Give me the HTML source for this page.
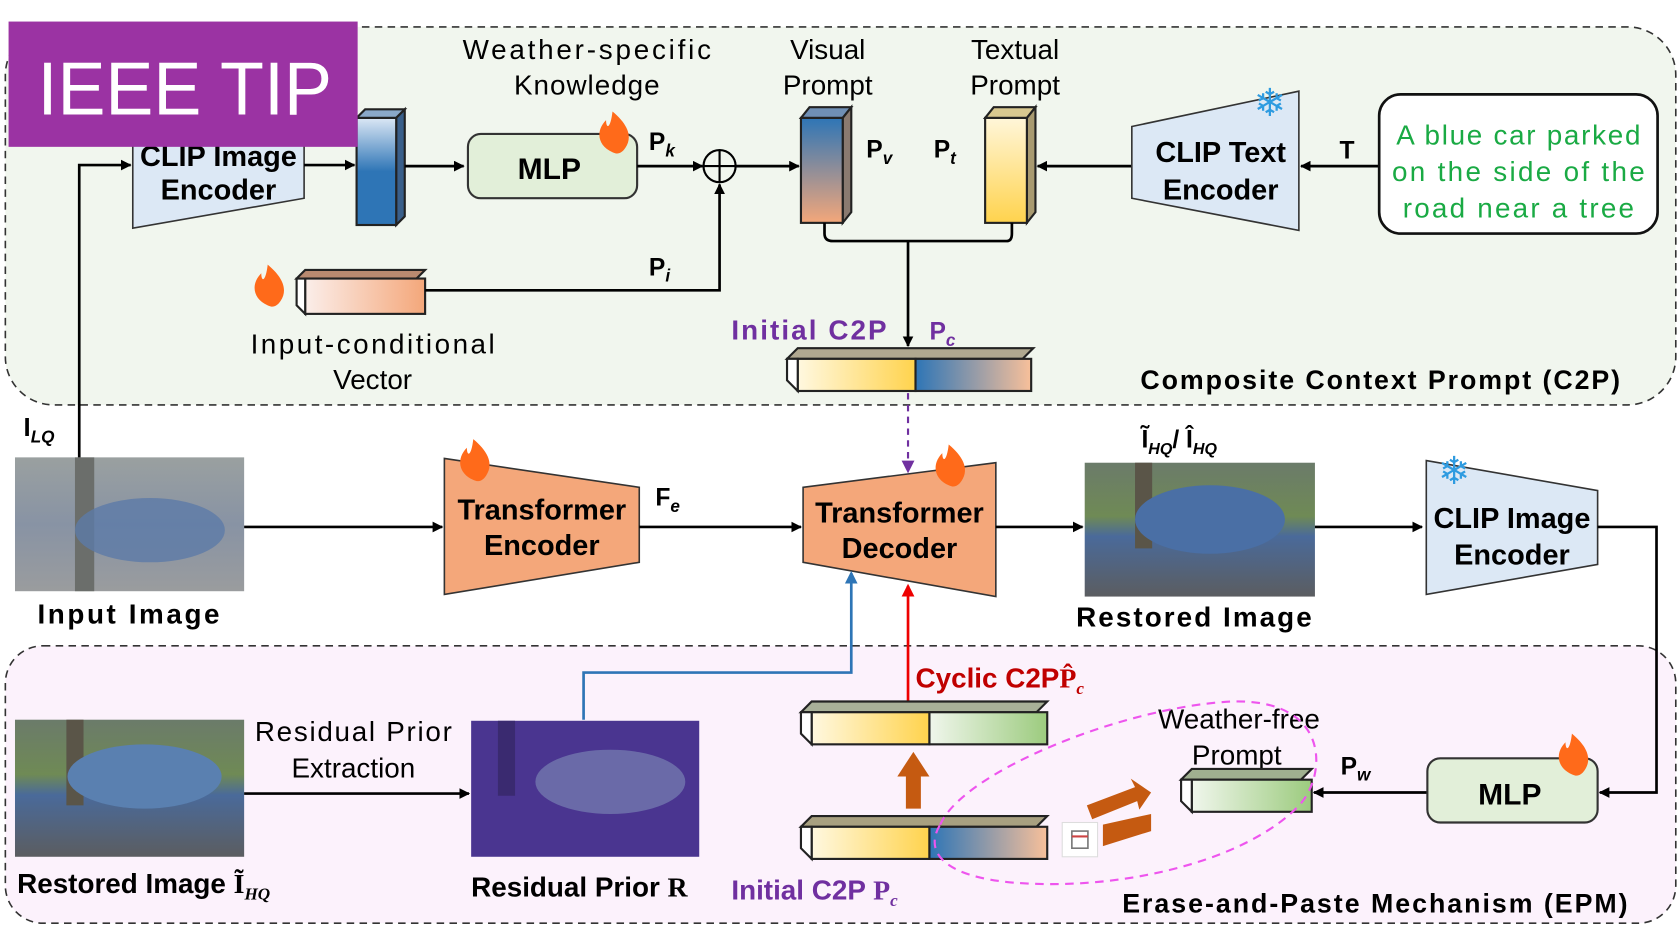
<!DOCTYPE html>
<html><head><meta charset="utf-8"><style>
html,body{margin:0;padding:0;background:#fff}
svg{display:block}
text{font-family:"Liberation Sans",sans-serif}
.b{font-weight:bold}
</style></head><body>
<svg width="1679" height="949" viewBox="0 0 1568 886" xmlns="http://www.w3.org/2000/svg">
<defs>
<marker id="ar" markerWidth="10" markerHeight="10" refX="9" refY="5" orient="auto" markerUnits="userSpaceOnUse"><path d="M0,0 L10,5 L0,10 z" fill="#000"/></marker>
<marker id="arB" markerWidth="12" markerHeight="12" refX="10" refY="6" orient="auto" markerUnits="userSpaceOnUse"><path d="M0,0 L12,6 L0,12 z" fill="#2e75b6"/></marker>
<marker id="arR" markerWidth="12" markerHeight="12" refX="10" refY="6" orient="auto" markerUnits="userSpaceOnUse"><path d="M0,0 L12,6 L0,12 z" fill="#e00"/></marker>
<marker id="arP" markerWidth="12" markerHeight="12" refX="10" refY="6" orient="auto" markerUnits="userSpaceOnUse"><path d="M0,0 L12,6 L0,12 z" fill="#7030a0"/></marker>
<linearGradient id="gBlue" x1="0" y1="0" x2="0" y2="1"><stop offset="0" stop-color="#dbe7f5"/><stop offset="0.5" stop-color="#2e75b6"/><stop offset="1" stop-color="#2e75b6"/></linearGradient>
<linearGradient id="gVis" x1="0" y1="0" x2="0" y2="1"><stop offset="0" stop-color="#2e75b6"/><stop offset="1" stop-color="#f4a77a"/></linearGradient>
<linearGradient id="gTxt" x1="0" y1="0" x2="0" y2="1"><stop offset="0" stop-color="#fff6d9"/><stop offset="1" stop-color="#ffd34d"/></linearGradient>
<linearGradient id="gOr" x1="0" y1="0" x2="1" y2="0"><stop offset="0" stop-color="#fbeeea"/><stop offset="1" stop-color="#f4a77a"/></linearGradient>
<linearGradient id="gYel" x1="0" y1="0" x2="1" y2="0"><stop offset="0" stop-color="#fff8e0"/><stop offset="1" stop-color="#ffd34d"/></linearGradient>
<linearGradient id="gBO" x1="0" y1="0" x2="1" y2="0"><stop offset="0" stop-color="#2e75b6"/><stop offset="1" stop-color="#f8c09a"/></linearGradient>
<linearGradient id="gGr" x1="0" y1="0" x2="1" y2="0"><stop offset="0" stop-color="#f0f6ec"/><stop offset="1" stop-color="#9ccb7e"/></linearGradient>
<linearGradient id="gImg" x1="0" y1="0" x2="0" y2="1"><stop offset="0" stop-color="#6b7b6a"/><stop offset="0.4" stop-color="#6f8a55"/><stop offset="0.55" stop-color="#4a6a9a"/><stop offset="1" stop-color="#5b5d60"/></linearGradient>
<linearGradient id="gImgLQ" x1="0" y1="0" x2="0" y2="1"><stop offset="0" stop-color="#9aa0a0"/><stop offset="0.5" stop-color="#8893a4"/><stop offset="1" stop-color="#9a9c9e"/></linearGradient>
</defs>

<rect x="5" y="25" width="1560" height="353" rx="45" fill="#f1f6ee" stroke="#333" stroke-width="1.5" stroke-dasharray="7,5"/>
<rect x="5" y="603" width="1560" height="259" rx="35" fill="#fcf2fc" stroke="#333" stroke-width="1.5" stroke-dasharray="7,5"/>

<polyline points="74,428 74,154 122,154" fill="none" stroke="#000" stroke-width="2.5" marker-end="url(#ar)"/>
<polygon points="124,115 284,115 284,185 124,213" fill="#dce8f5" stroke="#333" stroke-width="1.5"/>
<text x="204" y="155" font-size="27" class="b" text-anchor="middle">CLIP Image</text>
<text x="204" y="186" font-size="27" class="b" text-anchor="middle">Encoder</text>
<line x1="284" y1="154" x2="331" y2="154" stroke="#000" stroke-width="2.5" marker-end="url(#ar)"/>
<polygon points="333,110 341,102 378,102 370,110" fill="#8aa8c8" stroke="#222" stroke-width="2"/>
<polygon points="370,110 378,102 378,202 370,210" fill="#3a5f8a" stroke="#222" stroke-width="2"/>
<rect x="333" y="110" width="37" height="100" fill="url(#gBlue)" stroke="#222" stroke-width="2"/>
<line x1="378" y1="155" x2="433" y2="155" stroke="#000" stroke-width="2.5" marker-end="url(#ar)"/>
<rect x="437" y="125" width="158" height="60" rx="12" fill="#e2efd9" stroke="#333" stroke-width="2"/>
<text x="513" y="167" font-size="28" class="b" text-anchor="middle">MLP</text>
<text x="548" y="55" font-size="26" text-anchor="middle" textLength="232">Weather-specific</text>
<text x="548" y="88" font-size="26" text-anchor="middle" textLength="136">Knowledge</text>
<text x="606" y="140" font-size="23" class="b" font-family="Liberation Serif">P<tspan font-size="16" font-style="italic" dy="6">k</tspan></text>
<line x1="595" y1="155" x2="656" y2="155" stroke="#000" stroke-width="2.5" marker-end="url(#ar)"/>
<circle cx="672" cy="155" r="15" fill="none" stroke="#000" stroke-width="2"/>
<line x1="657" y1="155" x2="687" y2="155" stroke="#000" stroke-width="2"/>
<line x1="672" y1="140" x2="672" y2="170" stroke="#000" stroke-width="2"/>
<line x1="687" y1="155" x2="746" y2="155" stroke="#000" stroke-width="2.5" marker-end="url(#ar)"/>
<polygon points="277,260 285,252 397,252 389,260" fill="#b98a70" stroke="#222" stroke-width="2"/>
<rect x="285" y="260" width="112" height="33" fill="url(#gOr)" stroke="#222" stroke-width="2"/>
<polygon points="277,260 285,260 285,293 277,285" fill="#fff" stroke="#222" stroke-width="2"/>
<polyline points="397,271 672,271 672,172" fill="none" stroke="#000" stroke-width="2.5" marker-end="url(#ar)"/>
<text x="606" y="257" font-size="23" class="b" font-family="Liberation Serif">P<tspan font-size="16" font-style="italic" dy="6">i</tspan></text>
<text x="348" y="330" font-size="26" text-anchor="middle" textLength="228">Input-conditional</text>
<text x="348" y="363" font-size="26" text-anchor="middle">Vector</text>
<text x="773" y="55" font-size="26" text-anchor="middle">Visual</text>
<text x="773" y="88" font-size="26" text-anchor="middle">Prompt</text>
<polygon points="748,110 756,100 795,100 787,110" fill="#6f8fb5" stroke="#222" stroke-width="2"/>
<polygon points="787,110 795,100 795,198 787,208" fill="#8a7a70" stroke="#222" stroke-width="2"/>
<rect x="748" y="110" width="39" height="98" fill="url(#gVis)" stroke="#222" stroke-width="2"/>
<text x="809" y="147" font-size="23" class="b" font-family="Liberation Serif">P<tspan font-size="16" font-style="italic" dy="6">v</tspan></text>
<text x="872" y="147" font-size="23" class="b" font-family="Liberation Serif">P<tspan font-size="16" font-style="italic" dy="6">t</tspan></text>
<text x="948" y="55" font-size="26" text-anchor="middle">Textual</text>
<text x="948" y="88" font-size="26" text-anchor="middle">Prompt</text>
<polygon points="920,110 928,100 967,100 959,110" fill="#d8c890" stroke="#222" stroke-width="2"/>
<polygon points="959,110 967,100 967,198 959,208" fill="#a89a70" stroke="#222" stroke-width="2"/>
<rect x="920" y="110" width="39" height="98" fill="url(#gTxt)" stroke="#222" stroke-width="2"/>
<line x1="1057" y1="155" x2="969" y2="155" stroke="#000" stroke-width="2.5" marker-end="url(#ar)"/>
<polygon points="1057,118 1213,85 1213,215 1057,185" fill="#dce8f5" stroke="#333" stroke-width="1.5"/>
<text x="1140" y="151" font-size="27" class="b" text-anchor="middle">CLIP Text</text>
<text x="1140" y="186" font-size="27" class="b" text-anchor="middle">Encoder</text>
<text x="1186" y="108" font-size="36" fill="#2e9be0" text-anchor="middle">❄</text>
<text x="1258" y="148" font-size="23" class="b" font-family="Liberation Serif" text-anchor="middle">T</text>
<line x1="1288" y1="155" x2="1215" y2="155" stroke="#000" stroke-width="2.5" marker-end="url(#ar)"/>
<rect x="1288" y="88" width="260" height="130" rx="20" fill="#fff" stroke="#111" stroke-width="2.5"/>
<text x="1418" y="135" font-size="26" fill="#1aaa44" text-anchor="middle" textLength="228">A blue car parked</text>
<text x="1418" y="169" font-size="26" fill="#1aaa44" text-anchor="middle" textLength="236">on the side of the</text>
<text x="1418" y="203" font-size="26" fill="#1aaa44" text-anchor="middle" textLength="216">road near a tree</text>
<path d="M770,208 V218 Q770,225 778,225 H940 Q945,225 945,218 V208" fill="none" stroke="#000" stroke-width="2.5"/>
<line x1="848" y1="225" x2="848" y2="323" stroke="#000" stroke-width="2.5" marker-end="url(#ar)"/>
<text x="683" y="317" font-size="26" class="b" fill="#7030a0" textLength="145">Initial C2P</text>
<text x="868" y="317" font-size="23" class="b" fill="#7030a0" font-family="Liberation Serif">P<tspan font-size="16" font-style="italic" dy="6">c</tspan></text>
<polygon points="735,335 745,325 965,325 955,335" fill="#b0a890" stroke="#222" stroke-width="2"/>
<rect x="745" y="335" width="110" height="30" fill="url(#gYel)" stroke="#222" stroke-width="2"/>
<rect x="855" y="335" width="108" height="30" fill="url(#gBO)" stroke="#222" stroke-width="2"/>
<polygon points="735,335 745,335 745,365 735,355" fill="#fff" stroke="#222" stroke-width="2"/>
<text x="1065" y="363" font-size="25" class="b" textLength="448">Composite Context Prompt (C2P)</text>

<text x="22" y="407" font-size="24" class="b" font-family="Liberation Serif">I<tspan font-size="16" font-style="italic" dy="6">LQ</tspan></text>
<rect x="14" y="427" width="214" height="125" fill="url(#gImgLQ)"/>
<rect x="70" y="427" width="18" height="125" fill="#6b6e6b"/>
<ellipse cx="140" cy="495" rx="70" ry="30" fill="#5c7aa8" opacity="0.8"/>
<text x="35" y="582" font-size="26" class="b" textLength="170">Input Image</text>
<line x1="228" y1="492" x2="413" y2="492" stroke="#000" stroke-width="2.5" marker-end="url(#ar)"/>
<polygon points="415,428 597,455 597,525 415,555" fill="#f4a77a" stroke="#333" stroke-width="1.5"/>
<text x="506" y="485" font-size="27" class="b" text-anchor="middle">Transformer</text>
<text x="506" y="518" font-size="27" class="b" text-anchor="middle">Encoder</text>
<text x="612" y="472" font-size="23" class="b" font-family="Liberation Serif">F<tspan font-size="16" font-style="italic" dy="6">e</tspan></text>
<line x1="597" y1="492" x2="748" y2="492" stroke="#000" stroke-width="2.5" marker-end="url(#ar)"/>
<polygon points="750,455 930,432 930,557 750,525" fill="#f4a77a" stroke="#333" stroke-width="1.5"/>
<text x="840" y="488" font-size="27" class="b" text-anchor="middle">Transformer</text>
<text x="840" y="521" font-size="27" class="b" text-anchor="middle">Decoder</text>
<line x1="848" y1="367" x2="848" y2="440" stroke="#7030a0" stroke-width="2" stroke-dasharray="6,5" marker-end="url(#arP)"/>
<line x1="930" y1="492" x2="1011" y2="492" stroke="#000" stroke-width="2.5" marker-end="url(#ar)"/>
<text x="1066" y="418" font-size="23" class="b" font-family="Liberation Serif">Ĩ<tspan font-size="15" font-style="italic" dy="6">HQ</tspan><tspan dy="-6">/ Î</tspan><tspan font-size="15" font-style="italic" dy="6">HQ</tspan></text>
<rect x="1013" y="432" width="215" height="125" fill="url(#gImg)"/>
<rect x="1060" y="432" width="16" height="80" fill="#5a5548"/>
<ellipse cx="1130" cy="485" rx="70" ry="32" fill="#4a6fa5"/>
<text x="1005" y="585" font-size="26" class="b" textLength="220">Restored Image</text>
<line x1="1228" y1="492" x2="1328" y2="492" stroke="#000" stroke-width="2.5" marker-end="url(#ar)"/>
<polygon points="1332,430 1492,458 1492,527 1332,555" fill="#dce8f5" stroke="#333" stroke-width="1.5"/>
<text x="1412" y="493" font-size="27" class="b" text-anchor="middle">CLIP Image</text>
<text x="1412" y="527" font-size="27" class="b" text-anchor="middle">Encoder</text>
<text x="1358" y="452" font-size="36" fill="#2e9be0" text-anchor="middle">❄</text>
<polyline points="1492,492 1547,492 1547,740 1494,740" fill="none" stroke="#000" stroke-width="2.5" marker-end="url(#ar)"/>

<rect x="14" y="672" width="214" height="128" fill="url(#gImg)"/>
<rect x="62" y="672" width="16" height="80" fill="#5a5548"/>
<ellipse cx="135" cy="725" rx="72" ry="30" fill="#5a80b0"/>
<text x="16" y="834" font-size="26" class="b">Restored Image <tspan font-family="Liberation Serif">Ĩ</tspan><tspan font-family="Liberation Serif" font-size="16" font-style="italic" dy="6">HQ</tspan></text>
<text x="330" y="692" font-size="26" text-anchor="middle" textLength="184">Residual Prior</text>
<text x="330" y="726" font-size="26" text-anchor="middle">Extraction</text>
<line x1="228" y1="741" x2="438" y2="741" stroke="#000" stroke-width="2.5" marker-end="url(#ar)"/>
<rect x="440" y="673" width="213" height="127" fill="#4a3590"/>
<ellipse cx="570" cy="730" rx="70" ry="30" fill="#6a6aa8"/>
<rect x="465" y="673" width="16" height="70" fill="#3a2a70"/>
<text x="440" y="837" font-size="26" class="b">Residual Prior <tspan font-family="Liberation Serif">R</tspan></text>
<polyline points="545,672 545,628 795,628 795,535" fill="none" stroke="#2e75b6" stroke-width="2.5" marker-end="url(#arB)"/>
<line x1="848" y1="657" x2="848" y2="547" stroke="#e00" stroke-width="2.5" marker-end="url(#arR)"/>
<text x="855" y="642" font-size="26" class="b" fill="#c00000">Cyclic C2P<tspan font-family="Liberation Serif">P̂</tspan><tspan font-family="Liberation Serif" font-size="16" font-style="italic" dy="6">c</tspan></text>
<polygon points="748,665 758,655 978,655 968,665" fill="#a8b098" stroke="#222" stroke-width="2"/>
<rect x="758" y="665" width="110" height="30" fill="url(#gYel)" stroke="#222" stroke-width="2"/>
<rect x="868" y="665" width="110" height="30" fill="url(#gGr)" stroke="#222" stroke-width="2"/>
<polygon points="748,665 758,665 758,695 748,685" fill="#fff" stroke="#222" stroke-width="2"/>
<polygon points="846,755 846,725 838,725 853,702 868,725 860,725 860,755" fill="#c55a11"/>
<polygon points="748,772 758,762 978,762 968,772" fill="#a8a080" stroke="#222" stroke-width="2"/>
<rect x="758" y="772" width="110" height="30" fill="url(#gYel)" stroke="#222" stroke-width="2"/>
<rect x="868" y="772" width="110" height="30" fill="url(#gBO)" stroke="#222" stroke-width="2"/>
<polygon points="748,772 758,772 758,802 748,792" fill="#fff" stroke="#222" stroke-width="2"/>
<text x="683" y="840" font-size="26" class="b" fill="#7030a0">Initial C2P <tspan font-family="Liberation Serif" font-weight="bold">P</tspan><tspan font-family="Liberation Serif" font-size="16" font-style="italic" dy="6">c</tspan></text>
<polygon points="1015,752 1060,735 1056,727 1075,740 1064,756 1062,748 1020,765" fill="#c55a11"/>
<polygon points="1030,770 1075,760 1075,776 1030,790" fill="#c55a11"/>
<rect x="992" y="768" width="33" height="32" fill="#fff" stroke="#ddd"/>
<rect x="1001" y="776" width="15" height="16" fill="none" stroke="#777" stroke-width="1.5"/>
<line x1="1001" y1="781" x2="1016" y2="781" stroke="#c44" stroke-width="2"/>
<text x="1157" y="680" font-size="26" text-anchor="middle">Weather-free</text>
<text x="1155" y="714" font-size="26" text-anchor="middle">Prompt</text>
<polygon points="1103,728 1113,718 1225,718 1215,728" fill="#a0b090" stroke="#222" stroke-width="2"/>
<rect x="1113" y="728" width="112" height="30" fill="url(#gGr)" stroke="#222" stroke-width="2"/>
<polygon points="1103,728 1113,728 1113,758 1103,748" fill="#fff" stroke="#222" stroke-width="2"/>
<text x="1252" y="723" font-size="23" class="b" font-family="Liberation Serif">P<tspan font-size="16" font-style="italic" dy="6">w</tspan></text>
<line x1="1333" y1="740" x2="1227" y2="740" stroke="#000" stroke-width="2.5" marker-end="url(#ar)"/>
<rect x="1333" y="708" width="159" height="60" rx="12" fill="#e2efd9" stroke="#333" stroke-width="2"/>
<text x="1410" y="751" font-size="28" class="b" text-anchor="middle">MLP</text>
<path d="M878,770 C900,720 1050,660 1150,655 C1240,652 1240,720 1215,750 C1170,800 1060,830 960,825 C890,822 860,800 878,770 Z" fill="none" stroke="#ee55ee" stroke-width="2" stroke-dasharray="8,6"/>
<text x="1048" y="852" font-size="25" class="b" textLength="472">Erase-and-Paste Mechanism (EPM)</text>

<g fill="#ff6a1a">
<path d="M572,142 C558,136 556,122 566,112 C566,120 570,121 572,104 C584,114 592,126 584,138 C580,144 576,144 572,142 Z"/>
<path d="M250,285 C236,279 234,265 244,255 C244,263 248,264 250,247 C262,257 270,269 262,281 C258,287 254,287 250,285 Z"/>
<path d="M442,448 C428,442 426,428 436,418 C436,426 440,427 442,410 C454,420 462,432 454,444 C450,450 446,450 442,448 Z"/>
<path d="M886,453 C872,447 870,433 880,423 C880,431 884,432 886,415 C898,425 906,437 898,449 C894,455 890,455 886,453 Z"/>
<path d="M1468,723 C1454,717 1452,703 1462,693 C1462,701 1466,702 1468,685 C1480,695 1488,707 1480,719 C1476,725 1472,725 1468,723 Z"/>
</g>

<rect x="8" y="20" width="326" height="117" fill="#9b33a3"/>
<text x="35" y="107" font-size="70" fill="#fff" textLength="275" lengthAdjust="spacingAndGlyphs">IEEE TIP</text>
</svg>
</body></html>
